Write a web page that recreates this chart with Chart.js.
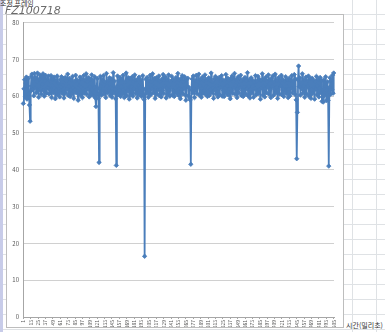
<!DOCTYPE html>
<html>
<head>
<meta charset="utf-8">
<script src="https://cdn.jsdelivr.net/npm/chart.js@4"></script>
<style>
  html, body { margin: 0; padding: 0; }
  body {
    width: 385px; height: 332px; overflow: hidden; position: relative;
    background-color: #fff;
    background-image: repeating-linear-gradient(to bottom, transparent 0, transparent 14px, #dfe2e5 14px, #dfe2e5 15px);
    font-family: "Noto Sans CJK KR", "DejaVu Sans", sans-serif;
  }
  #strip { position: absolute; left: 0; top: 0; width: 3px; height: 332px; background: #c8cce9; }
  #col1 { position: absolute; left: 352px; top: 0; width: 1px; height: 332px; background: #dfe2e5; }
  #col2 { position: absolute; left: 376px; top: 0; width: 1px; height: 332px; background: #dfe2e5; }
  #box {
    position: absolute; left: 6px; top: 14px; width: 336px; height: 312px;
    background: #fff; border: 1px solid #bdbdbd;
  }
  #box canvas { position: absolute; left: 0; top: 0; }
  #cap1 { position: absolute; left: 0; top: -2px; font-size: 7px; color: #333; white-space: nowrap; }
  #cap2 { position: absolute; left: 5px; top: 4px; font-size: 11px; font-style: italic; color: #6b6b6b; font-family: "DejaVu Sans", sans-serif; white-space: nowrap; }
  #unit { position: absolute; left: 346px; top: 320px; font-size: 7px; color: #333; white-space: nowrap; }
</style>
</head>
<body>
<div id="strip"></div>
<div id="col1"></div>
<div id="col2"></div>
<div id="box"><canvas id="chart" width="336" height="312"></canvas></div>
<div id="cap1">조정 프레임</div>
<div id="cap2">FZ100718</div>
<div id="unit">시간(밀리초)</div>
<script>
// frame values, one per sample
const values = [
  58.0, 62.0, 64.5, 59.8, 63.6, 65.2, 59.2, 62.8, 64.9, 60.6, 57.6, 53.2, 61.4, 65.4, 66.0, 61.8, 64.7, 60.1, 66.2, 62.3,
  65.1, 60.9, 64.0, 66.3, 61.5, 59.7, 64.6, 65.8, 62.0, 60.5, 65.3, 63.2, 66.1, 61.6, 60.0, 64.2, 65.7, 61.9, 60.8, 64.8,
  62.4, 65.5, 60.6, 64.1, 61.7, 65.6, 59.6, 62.9, 64.6, 60.9, 65.2, 62.1, 59.3, 64.3, 61.8, 65.5, 60.4, 63.6, 62.0, 59.8,
  64.5, 61.5, 65.3, 60.7, 63.0, 64.9, 59.5, 62.2, 65.1, 60.8, 64.2, 61.9, 66.0, 60.2, 62.7, 64.8, 59.9, 61.6, 64.4, 60.6,
  65.4, 62.3, 59.4, 64.0, 61.8, 65.7, 60.9, 64.5, 61.4, 58.9, 64.1, 62.8, 65.2, 60.3, 62.5, 64.7, 59.6, 61.9, 65.6, 60.8,
  64.3, 61.7, 66.1, 60.5, 63.9, 62.0, 65.0, 59.8, 62.6, 64.6, 60.4, 65.8, 61.6, 64.4, 60.1, 62.4, 65.3, 59.5, 57.2, 61.8,
  64.8, 60.7, 59.4, 42.0, 62.1, 65.4, 62.7, 60.3, 64.5, 61.4, 65.6, 60.6, 63.9, 62.2, 59.6, 66.2, 62.8, 60.9, 64.3, 61.5,
  65.0, 60.2, 62.4, 64.7, 59.7, 62.0, 66.4, 60.8, 64.1, 61.9, 59.3, 41.2, 62.6, 65.5, 60.4, 64.2, 61.6, 65.1, 59.9, 62.7,
  64.6, 60.6, 65.7, 61.8, 59.6, 63.8, 62.2, 66.3, 60.1, 64.4, 61.4, 65.0, 59.2, 62.5, 64.8, 60.5, 62.6, 65.3, 60.0, 64.0,
  61.9, 65.8, 60.7, 64.3, 61.6, 59.5, 64.7, 62.8, 65.2, 60.4, 62.3, 64.5, 59.9, 61.7, 65.6, 60.3, 59.1, 16.5, 62.0, 64.6,
  60.8, 65.1, 62.5, 59.7, 64.2, 61.5, 65.7, 60.4, 63.9, 62.0, 66.1, 60.9, 62.6, 64.8, 59.4, 62.3, 65.0, 60.6, 64.4, 61.8,
  65.5, 60.1, 64.1, 61.9, 59.8, 64.7, 61.6, 65.9, 60.7, 64.3, 62.7, 65.2, 59.5, 62.2, 64.5, 60.5, 65.8, 61.7, 60.0, 64.0,
  62.4, 65.4, 60.3, 64.6, 61.4, 59.9, 64.2, 62.3, 65.1, 60.8, 62.8, 66.2, 60.2, 64.4, 61.9, 59.3, 64.8, 61.8, 65.6, 60.6,
  63.9, 62.1, 65.3, 60.4, 58.9, 64.5, 62.6, 64.9, 60.1, 62.4, 59.5, 59.0, 41.5, 61.7, 64.7, 60.9, 65.5, 62.0, 59.6, 64.2,
  61.6, 65.7, 60.7, 64.0, 62.5, 66.0, 60.3, 62.8, 64.6, 59.7, 62.1, 65.2, 60.8, 64.3, 61.5, 65.8, 60.5, 62.7, 64.5, 59.9,
  62.3, 65.0, 60.2, 64.4, 61.8, 66.3, 60.9, 63.9, 62.2, 59.4, 64.7, 61.7, 65.4, 60.6, 62.9, 64.8, 59.8, 62.0, 65.1, 60.4,
  64.1, 62.4, 65.6, 60.0, 64.5, 61.6, 59.9, 64.2, 62.3, 65.9, 60.7, 62.8, 64.9, 60.3, 64.4, 61.9, 59.3, 64.8, 61.5, 65.5,
  60.8, 64.0, 62.2, 66.2, 60.5, 62.9, 64.6, 59.6, 61.9, 65.3, 60.9, 63.9, 62.4, 65.7, 60.2, 64.3, 61.6, 59.9, 64.7, 62.6,
  65.1, 60.6, 64.2, 62.0, 66.4, 60.1, 62.7, 64.5, 59.5, 61.8, 65.0, 60.8, 64.4, 62.8, 59.7, 63.9, 62.1, 65.6, 60.4, 64.1,
  61.5, 65.4, 60.7, 64.7, 61.9, 59.2, 64.3, 62.3, 66.1, 60.3, 62.8, 64.6, 59.8, 62.0, 65.2, 60.9, 64.0, 62.6, 65.8, 60.5,
  64.5, 61.8, 59.6, 64.8, 62.7, 65.5, 60.2, 63.9, 62.1, 66.0, 60.8, 62.4, 64.4, 59.4, 61.7, 65.1, 60.6, 64.2, 62.8, 65.7,
  60.4, 64.6, 62.0, 59.9, 64.1, 61.5, 65.3, 60.7, 62.7, 64.5, 59.6, 61.9, 64.9, 60.1, 64.3, 62.2, 65.6, 60.9, 64.0, 61.7,
  65.9, 60.5, 64.7, 59.0, 43.0, 55.6, 64.4, 68.2, 62.6, 65.0, 60.3, 63.9, 62.0, 66.1, 60.8, 62.8, 64.5, 59.7, 62.2, 65.2,
  60.6, 64.1, 62.7, 65.5, 60.0, 62.0, 64.8, 59.4, 61.8, 64.9, 60.7, 64.4, 62.3, 59.2, 64.0, 61.9, 65.4, 60.4, 62.8, 64.6,
  59.8, 62.2, 65.1, 60.9, 64.2, 58.6, 61.7, 58.4, 64.5, 60.2, 62.6, 65.3, 58.8, 61.6, 63.9, 58.9, 41.0, 62.4, 65.0, 60.5,
  64.3, 61.8, 65.7, 60.8, 66.3
];
// sample numbers on the category axis
const times = values.map((v, i) => i + 1);
const labelEvery = 12;
const yTicks = [0, 10, 20, 30, 40, 50, 60, 70, 80];

const blue = '#4a7ebb';
const axisFont = { family: '"Noto Sans CJK KR", "DejaVu Sans", sans-serif', size: 6 };

new Chart(document.getElementById('chart'), {
  type: 'line',
  data: {
    labels: times,
    datasets: [{
      data: values,
      borderColor: blue,
      backgroundColor: blue,
      borderWidth: 1.8,
      pointStyle: 'rectRot',
      pointRadius: 2.2,
      pointBorderWidth: 0.8,
      tension: 0
    }]
  },
  options: {
    responsive: false,
    animation: false,
    devicePixelRatio: 1,
    layout: { padding: { top: 2, right: 9, left: 0, bottom: 0 } },
    plugins: { legend: { display: false }, tooltip: { enabled: false } },
    scales: {
      x: {
        type: 'category',
        offset: true,
        grid: { display: true, drawOnChartArea: false, color: '#a6a6a6', tickLength: 2 },
        border: { color: '#a6a6a6' },
        ticks: {
          autoSkip: false,
          minRotation: 90,
          maxRotation: 90,
          padding: 1,
          color: '#595959',
          font: { family: axisFont.family, size: 5 },
          callback: (v, i) => (i % labelEvery === 0 ? String(times[i]) : null)
        },
        afterFit: s => { s.height = 10; }
      },
      y: {
        min: 0,
        max: 80,
        afterBuildTicks: s => { s.ticks = yTicks.map(v => ({ value: v })); },
        grid: { color: '#d0d0d0', tickLength: 0 },
        border: { color: '#a6a6a6' },
        ticks: { color: '#595959', font: axisFont, padding: 4 },
        afterFit: s => { s.width = 16; }
      }
    }
  }
});
</script>
</body>
</html>
